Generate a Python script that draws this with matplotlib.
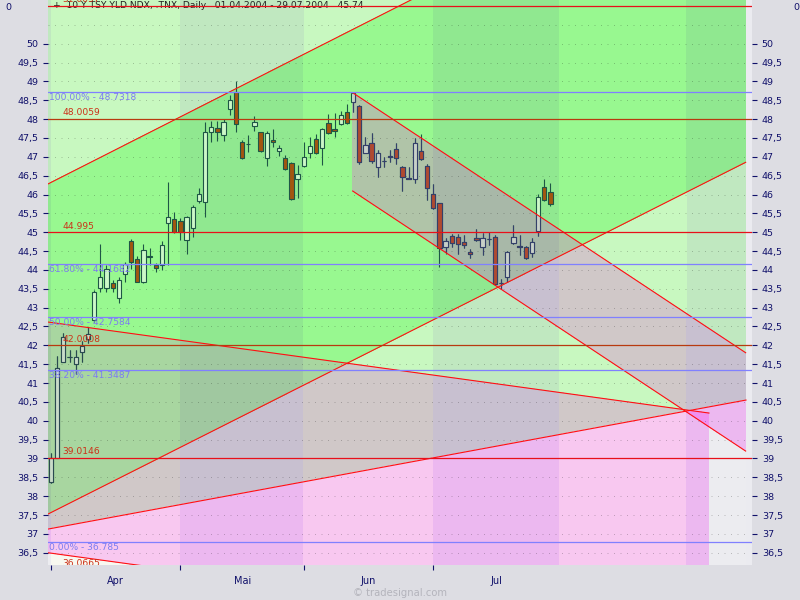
import numpy as np
import matplotlib
matplotlib.use("Agg")
import matplotlib.pyplot as plt
from matplotlib.patches import Polygon
import matplotlib.transforms as mtransforms

# ---------------- data ----------------
opens = [38.38, 39.00, 41.57, 41.68, 41.50, 41.81, 42.16, 42.67, 43.53, 43.51,
         43.64, 43.25, 43.88, 44.77, 44.28, 43.69, 44.34, 44.13, 44.13, 45.24,
         45.34, 45.31, 44.79, 45.10, 45.84, 45.81, 47.65, 47.76, 47.57, 48.26,
         48.73, 47.40, 47.34, 47.82, 47.65, 46.96, 47.45, 47.16, 46.96, 46.83,
         46.40, 46.76, 47.09, 47.46, 47.23, 47.89, 47.73, 47.87, 48.18, 48.46,
         48.35, 47.11, 47.36, 46.72, 46.89, 47.00, 47.20, 46.72, 46.43, 46.40,
         47.15, 46.76, 46.01, 45.77, 44.60, 44.91, 44.88, 44.75, 44.47, 44.84,
         44.60, 44.82, 44.86, 43.64, 43.82, 44.72, 44.64, 44.60, 44.44, 45.04,
         46.21, 46.07]
highs = [39.14, 41.72, 42.34, 41.88, 41.88, 42.11, 42.49, 43.47, 44.69, 44.13,
         43.73, 43.82, 44.22, 44.82, 44.37, 44.69, 44.57, 44.19, 44.77, 46.34,
         45.53, 45.38, 45.43, 45.72, 46.16, 47.93, 47.96, 47.96, 48.00, 48.64,
         49.01, 47.45, 47.58, 48.08, 47.67, 47.69, 47.73, 47.31, 47.05, 46.87,
         46.78, 47.40, 47.53, 47.60, 47.76, 48.14, 48.15, 48.22, 48.40, 48.70,
         48.37, 47.53, 47.64, 47.18, 47.00, 47.18, 47.36, 46.76, 46.72, 47.49,
         47.60, 46.81, 46.27, 45.78, 44.84, 44.95, 44.95, 44.93, 44.55, 45.08,
         44.97, 45.01, 44.93, 43.76, 44.51, 45.19, 44.93, 44.64, 44.84, 46.01,
         46.40, 46.30]
lows = [38.34, 39.00, 41.57, 41.55, 41.24, 41.57, 42.05, 42.63, 43.42, 43.42,
        43.42, 43.11, 43.69, 44.02, 43.67, 43.66, 44.13, 43.95, 44.00, 44.13,
        44.99, 44.79, 44.42, 44.86, 45.78, 45.41, 47.40, 47.43, 47.43, 48.11,
        47.67, 46.94, 47.12, 47.69, 47.12, 46.76, 47.25, 47.03, 46.65, 45.85,
        45.90, 46.72, 46.96, 47.07, 46.78, 47.61, 47.53, 47.84, 47.86, 48.18,
        46.80, 47.09, 46.84, 46.47, 46.72, 46.87, 46.81, 46.10, 46.40, 46.30,
        46.92, 45.85, 45.61, 44.08, 44.42, 44.62, 44.42, 44.57, 44.31, 44.77,
        44.40, 44.66, 43.60, 43.49, 43.69, 44.69, 44.40, 44.29, 44.35, 44.91,
        45.84, 45.70]
closes = [39.00, 41.41, 42.23, 41.70, 41.68, 41.98, 42.29, 43.42, 43.80, 44.02,
          43.51, 43.72, 44.15, 44.22, 43.69, 44.53, 44.37, 44.04, 44.66, 45.40,
          45.00, 45.00, 45.41, 45.68, 46.01, 47.65, 47.78, 47.65, 47.93, 48.51,
          47.86, 46.96, 47.35, 47.92, 47.16, 47.62, 47.39, 47.23, 46.69, 45.87,
          46.54, 47.00, 47.29, 47.09, 47.73, 47.62, 47.68, 48.11, 47.89, 48.68,
          46.85, 47.31, 46.90, 47.11, 46.90, 47.01, 46.96, 46.46, 46.40, 47.36,
          46.93, 46.16, 45.63, 44.57, 44.77, 44.71, 44.69, 44.66, 44.42, 44.79,
          44.84, 44.83, 43.63, 43.66, 44.47, 44.86, 44.60, 44.31, 44.73, 45.93,
          45.85, 45.74]

month_names = ["Apr", "Mai", "Jun", "Jul"]
month_starts = [0, 21, 41, 62]          # bar index of first trading day
band_edges = [0, 21, 41, 62, 82.4, 103.1]  # month boundaries incl. future months

# Fibonacci retracement levels
fib_pct = ["100.00%", "61.80%", "50.00%", "38.20%", "0.00%"]
fib_val = [48.7318, 44.1682, 42.7584, 41.3487, 36.785]

# horizontal red lines
hl_val = [51.0057, 48.0059, 44.995, 42.0008, 39.0146, 36.0665]
hl_lab = ["51.0057", "48.0059", "44.995", "42.0008", "39.0146", "36.0665"]
hl_dark = [False, True, False, True, False, False]

# trend lines: (x0, y0, x1, y1) in bar index / yield
up_upper = (-0.487, 46.28, 112.66, 55.66)
up_lower = (-0.487, 37.525, 112.66, 46.854)
base_line = (-0.487, 37.127, 112.72, 40.549)
wide_upper = (-0.487, 42.618, 106.71, 40.204)
wide_lower = (-0.487, 36.499, 106.71, 34.085)
narrow_upper = (48.93, 48.70, 112.66, 41.804)
narrow_lower = (48.93, 46.093, 112.66, 39.196)

title = "+  10 Y TSY YLD NDX, .TNX, Daily   01.04.2004 - 29.07.2004   45.74"

# ---------------- layout ----------------
FONT = ["Liberation Sans Narrow", "DejaVu Sans"]
NAVY = "#10106a"
XL = (-0.487, 113.69)
YL = (36.174, 51.159)
X_END = 112.66

fig = plt.figure(figsize=(8, 6), dpi=100, facecolor="#dddde3")
ax = fig.add_axes([48 / 800, 35 / 600, 704 / 800, 565 / 600])
ax.set_facecolor("#ebebf0")
ax.set_xlim(*XL)
ax.set_ylim(*YL)
for s in ax.spines.values():
    s.set_visible(False)


def lfun(l):
    x0, y0, x1, y1 = l
    k = (y1 - y0) / (x1 - x0)
    return lambda x: y0 + k * (x - x0)


def below(l):
    f = lfun(l)
    return lambda p: f(p[0]) - p[1]


def above(l):
    f = lfun(l)
    return lambda p: p[1] - f(p[0])


def xmin(a):
    return lambda p: p[0] - a


def xmax(b):
    return lambda p: b - p[0]


def clip(poly, f):
    out = []
    n = len(poly)
    for k in range(n):
        p, q = poly[k], poly[(k + 1) % n]
        fp, fq = f(p), f(q)
        if fp >= 0:
            out.append(p)
        if (fp >= 0) != (fq >= 0):
            t = fp / (fp - fq)
            out.append((p[0] + t * (q[0] - p[0]), p[1] + t * (q[1] - p[1])))
    return out


def region(xa, xb, cons):
    poly = [(xa, 30), (xb, 30), (xb, 60), (xa, 60)]
    for c in cons:
        poly = clip(poly, c)
        if len(poly) < 3:
            return None
    return poly


U = [below(up_upper), above(up_lower)]
W = [below(wide_upper), above(wide_lower), xmax(wide_upper[2])]
N = [below(narrow_upper), above(narrow_lower), xmin(narrow_upper[0])]
B = [below(base_line)]

colors = {  # (light band, dark band)
    "none": ("#c8f8c0", "#c0e8c0"),
    "B": ("#f8f8f0", "#ececf0"),
    "U": ("#98f890", "#90e890"),
    "W": ("#d0c8c8", "#c8c0d0"),
    "UW": ("#a8d6a0", "#a0c8a0"),
    "UN": ("#b0c4a8", "#a8b8a8"),
    "BW": ("#f8c8f0", "#ecb8f0"),
    "BWN": ("#f8a0f8", "#f090f0"),
}

edges = [XL[0]] + band_edges + [X_END]
for bi in range(len(edges) - 1):
    xa, xb = edges[bi], edges[bi + 1]
    dark = 1 if bi % 2 == 0 else 0
    layers = [
        ([], "none"), (B, "B"), (U, "U"), (W, "W"), (N, "W"),
        (U + W, "UW"), (U + N, "UN"), (B + W, "BW"), (B + N, "BW"),
        (B + W + N, "BWN"),
    ]
    for cons, key in layers:
        poly = region(xa, xb, cons)
        if poly is not None:
            ax.add_patch(Polygon(poly, closed=True, facecolor=colors[key][dark],
                                 edgecolor="none", lw=0, antialiased=False, zorder=0.5))

# dotted grid
grid_vals = np.arange(36.5, 51.01, 0.5)
ax.hlines(grid_vals, XL[0], X_END, colors=[(0, 0, 0, 0.22)], linestyles=[(0, (1, 5.5))],
          lw=0.72, zorder=1)

# candles
xs = np.arange(len(opens))
o = np.array(opens); c = np.array(closes); h = np.array(highs); l = np.array(lows)
body_lo = np.minimum(o, c)
body_h = np.maximum(np.abs(c - o), 0.012)
up = c >= o


def draw_candles(edge, upface, downface, clip_poly=None, z=2.0):
    faces = [upface if u else downface for u in up]
    lc = ax.vlines(xs, l, h, colors=edge, lw=0.8, zorder=z)
    bars = ax.bar(xs, body_h, bottom=body_lo, width=0.7, color=faces,
                  edgecolor=edge, linewidth=0.8, zorder=z + 0.1)
    if clip_poly is not None:
        cp = Polygon(clip_poly, closed=True, transform=ax.transData)
        lc.set_clip_path(cp)
        for b in bars:
            b.set_clip_path(cp)


draw_candles("#1e5646", "#ccf8c8", "#a3560f")
draw_candles("#2a4a50", "#c8dcc8", "#a0522a", region(XL[0], X_END, W), z=2.2)
draw_candles("#34406a", "#c8d0c8", "#b04a30", region(XL[0], X_END, N), z=2.4)

# title (sits under the top red line, like the reference)
ax.text(53 / 800, 1 - 6 / 600, title, transform=fig.transFigure, ha="left", va="center",
        fontsize=6.6, family=FONT, color="#202020", zorder=2.9, clip_on=False)

# trend lines
for tl in [up_upper, up_lower, base_line, wide_upper, wide_lower, narrow_upper, narrow_lower]:
    ax.plot([tl[0], tl[2]], [tl[1], tl[3]], color="#ff1010", lw=0.8, zorder=3)

# fib lines + labels
btrans = mtransforms.blended_transform_factory(ax.transAxes, ax.transData)
for p, v in zip(fib_pct, fib_val):
    ax.axhline(v, color="#8080ff", lw=0.9, zorder=3)
    ax.text(0.0014, v, f"{p} - {v:g}", transform=mtransforms.offset_copy(btrans, fig=fig, x=0, y=-1.5, units="dots"),
            va="top", ha="left", fontsize=6.6, color="#7c7cf0", family=FONT, zorder=4, clip_on=True)

# red horizontal lines + labels
for v, lab, dk in zip(hl_val, hl_lab, hl_dark):
    ax.axhline(v, color="#b83a10" if dk else "#e8101a", lw=0.9, zorder=3)
    ax.text(0.0199, v, lab, transform=mtransforms.offset_copy(btrans, fig=fig, x=0, y=1.5, units="dots"),
            va="bottom", ha="left", fontsize=6.6, color="#cc3018", family=FONT, zorder=4, clip_on=True)

# axes ticks
yt = np.arange(36.5, 50.01, 0.5)
ax.set_yticks(yt)
ax.set_yticklabels([f"{v:g}".replace(".", ",") for v in yt], family=FONT, fontsize=6.8, color=NAVY)
ax.tick_params(axis="y", left=True, right=True, labelleft=True, labelright=True,
               direction="out", length=3.8, width=0.8, color=NAVY, pad=3.2)

ax.set_xticks(month_starts)
ax.set_xticklabels([])
mids = [(band_edges[k] + band_edges[k + 1]) / 2 for k in range(len(month_names))]
ax.set_xticks(mids, minor=True)
ax.set_xticklabels(month_names, minor=True, family=FONT, fontsize=7, color=NAVY)
ax.tick_params(axis="x", which="major", direction="out", length=3.6, width=0.8, color=NAVY)
ax.tick_params(axis="x", which="minor", length=0, pad=8)

fig.text(5 / 800, 1 - 7 / 600, "0", ha="left", va="center", fontsize=6.8, family=FONT, color=NAVY)
fig.text(793 / 800, 1 - 7 / 600, "0", ha="left", va="center", fontsize=6.8, family=FONT, color=NAVY)
fig.text(400 / 800, 1 - 593 / 600, "\u00a9 tradesignal.com", ha="center", va="center",
         fontsize=7.2, family=FONT, color="#b4b4bc")

fig.savefig("out.png", dpi=100, facecolor=fig.get_facecolor())
